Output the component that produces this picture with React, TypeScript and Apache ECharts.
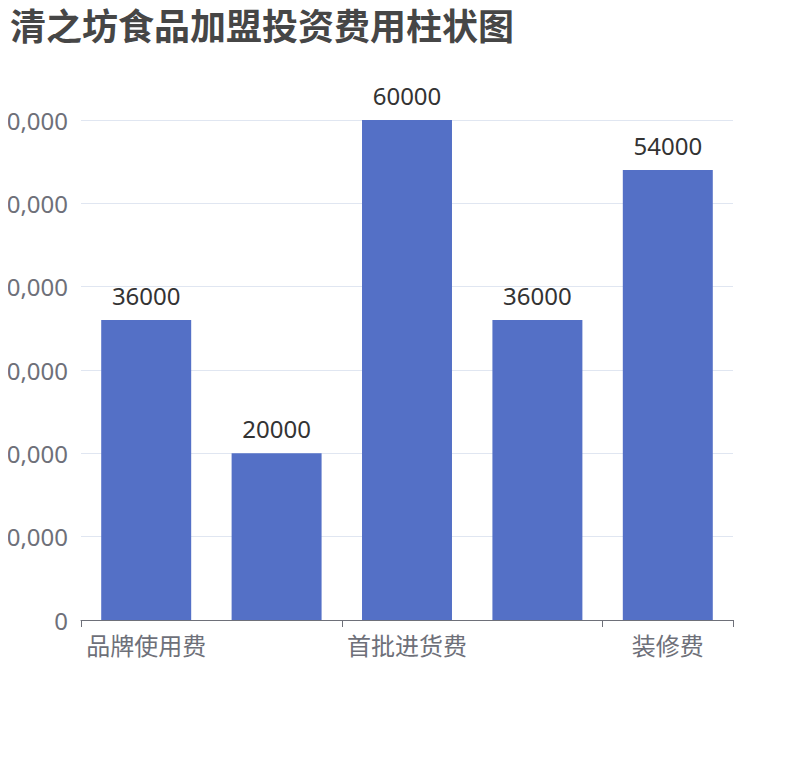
import { useEffect, useRef } from "react";
import * as echarts from "echarts";

const categories = ["品牌使用费", "加盟保证金", "首批进货费", "设备购置费", "装修费"];
const costs = [36000, 20000, 60000, 36000, 54000];
const yMax = 60000;
const yStep = 10000;

const font = "'Noto Sans', 'Noto Sans CJK SC', sans-serif";

export default function App() {
  const ref = useRef<HTMLDivElement>(null);

  useEffect(() => {
    if (!ref.current) return;
    const chart = echarts.init(ref.current, undefined, { renderer: "svg" });
    chart.setOption({
      animation: false,
      title: {
        text: "清之坊食品加盟投资费用柱状图",
        left: 2,
        top: 0,
        padding: 0,
        textStyle: { fontSize: 36, fontWeight: "bold", color: "#464646", fontFamily: font },
      },
      // labels on the left are allowed to run past the edge, as in the source
      grid: { left: 73, right: 69, top: 112, bottom: 132, containLabel: false, outerBoundsMode: "none" },
      xAxis: {
        type: "category",
        data: categories,
        axisLine: { lineStyle: { color: "#6E7079" } },
        axisTick: { show: true, interval: 1, length: 7, lineStyle: { color: "#6E7079" } },
        axisLabel: { fontSize: 24, color: "#6E7079", fontFamily: font, interval: 1, margin: 13 },
      },
      yAxis: {
        type: "value",
        min: 0,
        max: yMax,
        interval: yStep,
        axisLabel: { fontSize: 24, color: "#6E7079", fontFamily: font, margin: 13 },
        splitLine: { lineStyle: { color: "#E0E6F1" } },
      },
      series: [
        {
          type: "bar",
          data: costs,
          barWidth: "69%",
          itemStyle: { color: "#5470C6" },
          label: {
            show: true,
            position: "top",
            distance: 13,
            fontSize: 24,
            color: "#333",
            fontFamily: font,
          },
        },
      ],
    });
    return () => chart.dispose();
  }, []);

  return <div ref={ref} style={{ width: "100%", height: 744 }} />;
}
